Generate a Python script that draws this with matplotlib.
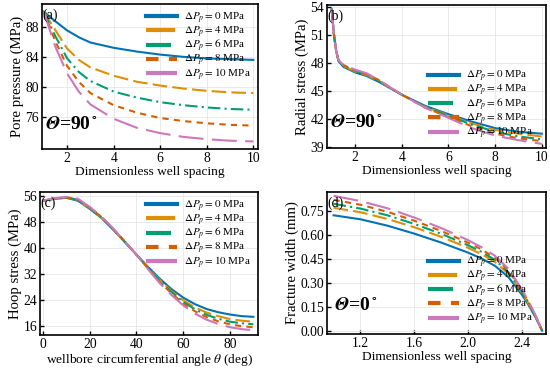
import numpy as np
import matplotlib.pyplot as plt

plt.rcParams['font.family'] = ['Liberation Serif', 'DejaVu Serif']
plt.rcParams['mathtext.fontset'] = 'stix'
plt.rcParams['xtick.direction'] = 'in'
plt.rcParams['ytick.direction'] = 'in'

colors = ['#0173B2', '#DE8F05', '#029E73', '#D55E00', '#CC78BC']
dashes = [(None, None), (7, 2.5), (6, 2, 1, 2), (3, 2.5), (12, 4)]
labels = [r'$\Delta P_p=0$ MPa', r'$\Delta P_p=4$ MPa', r'$\Delta P_p=6$ MPa',
          r'$\Delta P_p=8$ MPa', r'$\Delta P_p=10$ MPa']

# (a) pore pressure vs dimensionless well spacing
xa = [1.0, 1.25, 1.5, 2.0, 2.5, 3.0, 4.0, 5.0, 6.0, 7.0, 8.0, 9.0, 10.0]
pa = [
    [90.0, 89.3, 88.7, 87.5, 86.6, 85.9, 85.2, 84.7, 84.3, 84.0, 83.8, 83.7, 83.6],
    [90.0, 88.7, 87.5, 85.1, 83.6, 82.6, 81.5, 80.7, 80.2, 79.8, 79.5, 79.3, 79.2],
    [90.0, 88.3, 86.7, 83.8, 82.0, 80.8, 79.4, 78.6, 78.0, 77.6, 77.3, 77.1, 77.0],
    [90.0, 88.0, 86.0, 82.8, 80.7, 79.2, 77.6, 76.6, 75.9, 75.5, 75.2, 75.0, 74.9],
    [90.0, 87.6, 85.3, 81.8, 79.4, 77.7, 75.8, 74.6, 73.9, 73.4, 73.1, 72.9, 72.8],
]

# (b) radial stress vs dimensionless well spacing
xb = [1.0, 1.1, 1.2, 1.3, 1.5, 2.0, 2.5, 3.0, 4.0, 5.0, 6.0, 7.0, 8.0, 9.0, 10.0]
rb = [
    [53.8, 51.0, 49.2, 48.2, 47.6, 47.0, 46.6, 46.0, 44.6, 43.4, 42.5, 41.7, 41.0, 40.6, 40.4],
    [53.8, 51.0, 49.2, 48.2, 47.7, 47.1, 46.7, 46.1, 44.6, 43.3, 42.4, 41.5, 40.8, 40.4, 40.1],
    [53.8, 51.0, 49.2, 48.2, 47.7, 47.2, 46.8, 46.1, 44.6, 43.3, 42.3, 41.4, 40.6, 40.1, 39.8],
    [53.8, 51.0, 49.2, 48.2, 47.8, 47.2, 46.8, 46.2, 44.6, 43.2, 42.2, 41.2, 40.4, 39.9, 39.6],
    [53.8, 51.0, 49.2, 48.3, 47.8, 47.3, 46.9, 46.2, 44.6, 43.2, 42.1, 41.0, 40.2, 39.7, 39.3],
]

# (c) hoop stress vs circumferential angle
xc = [0, 5, 10, 15, 20, 25, 30, 35, 40, 45, 50, 55, 60, 65, 70, 75, 80, 85, 90]
hc = [
    [54.5, 55.1, 55.4, 54.5, 52.0, 49.2, 45.6, 41.8, 37.9, 34.1, 30.5, 27.3, 24.7, 22.7, 21.2, 20.2, 19.5, 19.0, 18.8],
    [54.5, 55.2, 55.5, 54.7, 52.2, 49.3, 45.7, 41.9, 37.9, 33.9, 30.1, 26.7, 23.9, 21.7, 20.1, 19.0, 18.1, 17.6, 17.3],
    [54.5, 55.2, 55.5, 54.8, 52.3, 49.4, 45.8, 41.9, 37.9, 33.8, 29.8, 26.4, 23.4, 21.1, 19.4, 18.2, 17.3, 16.8, 16.5],
    [54.5, 55.2, 55.6, 54.9, 52.4, 49.5, 45.9, 42.0, 37.9, 33.6, 29.5, 26.0, 22.9, 20.5, 18.7, 17.4, 16.5, 15.9, 15.6],
    [54.5, 55.3, 55.7, 55.1, 52.6, 49.7, 46.0, 42.0, 37.9, 33.4, 29.1, 25.5, 22.3, 19.8, 17.9, 16.6, 15.6, 15.0, 14.7],
]

# (d) fracture width vs dimensionless well spacing
xd = [1.0, 1.2, 1.4, 1.6, 1.8, 2.0, 2.1, 2.2, 2.3, 2.4, 2.45, 2.5, 2.53, 2.55]
wd = [
    [0.723, 0.698, 0.658, 0.608, 0.552, 0.489, 0.452, 0.406, 0.335, 0.225, 0.160, 0.085, 0.035, 0.0],
    [0.770, 0.742, 0.700, 0.648, 0.588, 0.519, 0.479, 0.430, 0.355, 0.238, 0.168, 0.090, 0.037, 0.0],
    [0.795, 0.765, 0.723, 0.669, 0.607, 0.535, 0.494, 0.443, 0.366, 0.245, 0.173, 0.092, 0.038, 0.0],
    [0.820, 0.789, 0.745, 0.689, 0.625, 0.551, 0.509, 0.456, 0.377, 0.252, 0.178, 0.095, 0.039, 0.0],
    [0.845, 0.812, 0.767, 0.709, 0.643, 0.567, 0.523, 0.469, 0.387, 0.259, 0.183, 0.098, 0.040, 0.0],
]

fig = plt.figure(figsize=(5.5, 3.73), dpi=100)
W, H = 550, 373
def box(l, t, r, b):
    return [l / W, 1 - b / H, (r - l) / W, (b - t) / H]

axa = fig.add_axes(box(42, 4, 258, 149))
axb = fig.add_axes(box(327, 5, 546, 148))
axc = fig.add_axes(box(40, 192, 258, 335))
axd = fig.add_axes(box(327, 192, 546, 334))

def draw(ax, x, ys):
    for y, c, d, lab in zip(ys, colors, dashes, labels):
        line, = ax.plot(x, y, color=c, lw=1.5, label=lab)
        if d[0] is not None:
            line.set_dashes(d)
    ax.grid(True, color='#e6e6e6', lw=0.6)
    for s in ax.spines.values():
        s.set_linewidth(1.2)
    ax.tick_params(labelsize=9.8, length=3, width=1, pad=2)

def legend(ax, loc, anchor):
    leg = ax.legend(loc=loc, bbox_to_anchor=anchor, frameon=False, fontsize=8,
                    handlelength=2.8, labelspacing=-0.12, handletextpad=0.65,
                    borderaxespad=0.2)
    for h in leg.get_lines():
        h.set_linewidth(3)

def labels_xy(ax, xl, yl):
    ax.set_xlabel(xl, fontsize=9.6, labelpad=1)
    ax.set_ylabel(yl, fontsize=10.6, labelpad=1)

theta = r'$\mathbfit{\Theta}$'

draw(axa, xa, pa)
axa.set_xlim(0.92, 10.2)
axa.set_ylim(71.8, 91.0)
axa.set_yticks([76, 80, 84, 88])
axa.set_xticks([2, 4, 6, 8, 10])
labels_xy(axa, 'Dimensionless well spacing', 'Pore pressure (MPa)')
legend(axa, 'upper right', (1.0, 1.0))
axa.text(0.0, 0.97, '(a)', transform=axa.transAxes, fontsize=10, va='top')
axa.text(0.015, 0.17, theta + '=90$^\\circ$', transform=axa.transAxes,
         fontsize=14, fontweight='bold', va='center')

draw(axb, xb, rb)
axb.set_xlim(0.8, 10.18)
axb.set_ylim(38.86, 54.25)
axb.set_yticks([39, 42, 45, 48, 51, 54])
axb.set_xticks([2, 4, 6, 8, 10])
labels_xy(axb, 'Dimensionless well spacing', 'Radial stress (MPa)')
legend(axb, 'lower right', (0.97, 0.0))
axb.text(0.0, 0.97, '(b)', transform=axb.transAxes, fontsize=10, va='top')
axb.text(0.015, 0.175, theta + '=90$^\\circ$', transform=axb.transAxes,
         fontsize=14, fontweight='bold', va='center')

draw(axc, xc, hc)
axc.set_xlim(-1.3, 92)
axc.set_ylim(13.2, 57.2)
axc.set_yticks([16, 24, 32, 40, 48, 56])
axc.set_xticks([0, 20, 40, 60, 80])
labels_xy(axc, r'wellbore circumferential angle $\theta$ (deg)', 'Hoop stress (MPa)')
legend(axc, 'upper right', (1.0, 1.0))
axc.text(0.0, 0.97, '(c)', transform=axc.transAxes, fontsize=10, va='top')

draw(axd, xd, wd)
axd.set_xlim(0.951, 2.579)
axd.set_ylim(-0.021, 0.869)
axd.set_yticks([0.0, 0.15, 0.30, 0.45, 0.60, 0.75])
axd.set_yticklabels(['0.00', '0.15', '0.30', '0.45', '0.60', '0.75'])
axd.set_xticks([1.2, 1.6, 2.0, 2.4])
labels_xy(axd, 'Dimensionless well spacing', 'Fracture width (mm)')
legend(axd, 'lower right', (0.97, 0.0))
axd.text(0.0, 0.97, '(d)', transform=axd.transAxes, fontsize=10, va='top')
axd.text(0.03, 0.2, theta + '=0$^\\circ$', transform=axd.transAxes,
         fontsize=14, fontweight='bold', va='center')

fig.savefig('out.png', dpi=100)
